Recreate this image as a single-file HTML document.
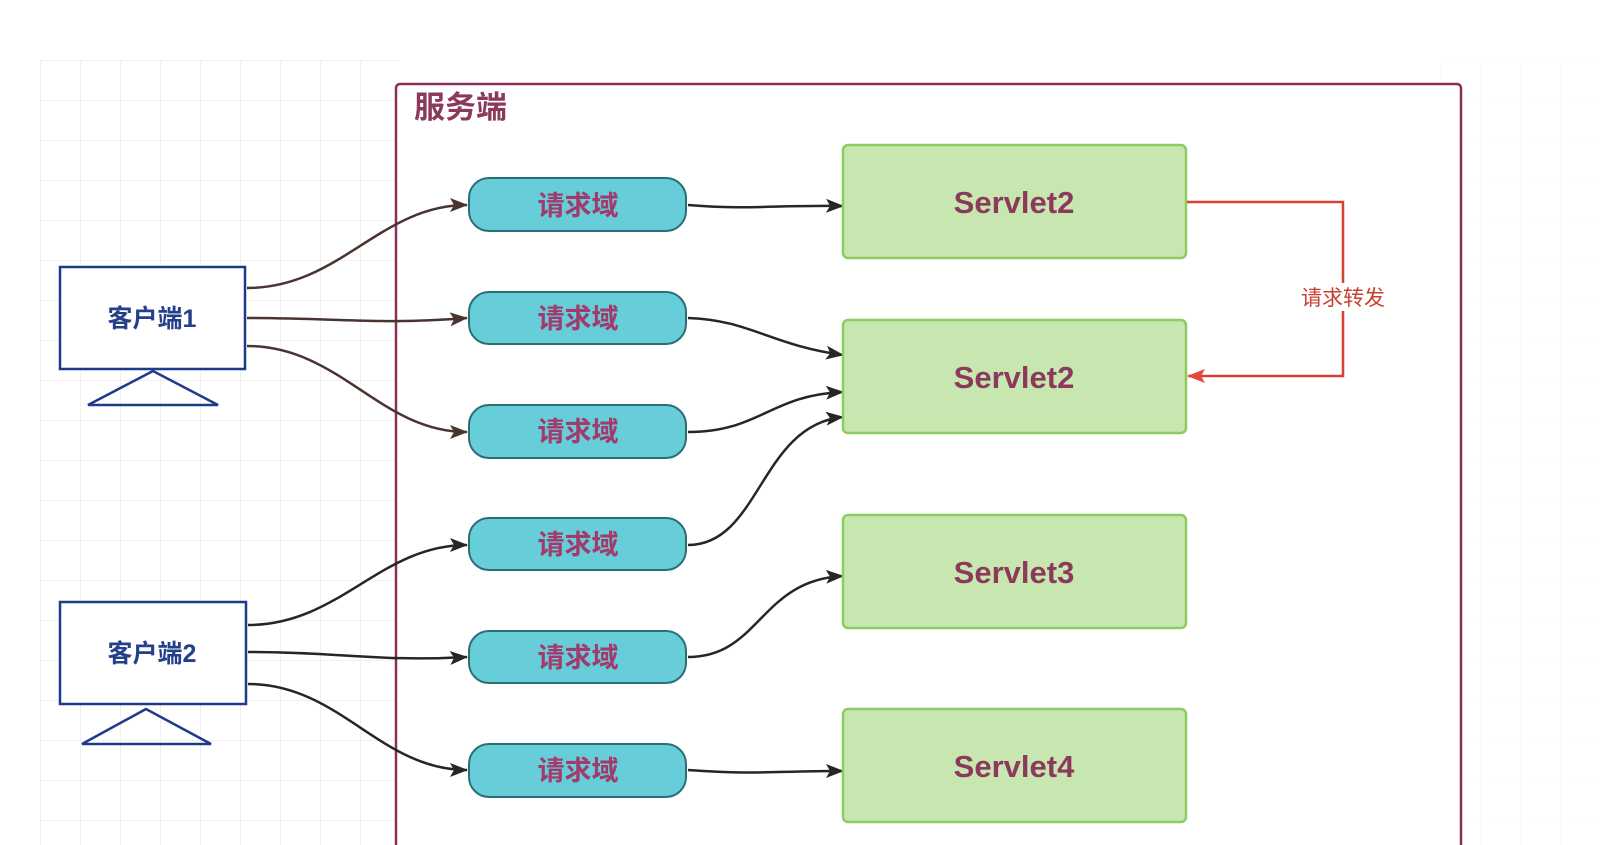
<!DOCTYPE html>
<html><head><meta charset="utf-8"><style>
html,body{margin:0;padding:0;background:#fff;}
svg{display:block}
text{font-family:"Liberation Sans","Noto Sans CJK SC",sans-serif;font-weight:bold}
</style></head><body>
<svg width="1600" height="845" viewBox="0 0 1600 845" xmlns="http://www.w3.org/2000/svg">
<defs>
<pattern id="g" width="40" height="40" patternUnits="userSpaceOnUse" x="40" y="20">
<path d="M40 0H0V40" fill="none" stroke="#ececec" stroke-width="1.5"/>
</pattern>
<marker id="a" markerWidth="18" markerHeight="14" refX="17" refY="7" orient="auto" markerUnits="userSpaceOnUse" viewBox="0 0 18 14">
<path d="M0 0L18 7L0 14L4 7Z" fill="#262626"/></marker>
<marker id="ab" markerWidth="18" markerHeight="14" refX="17" refY="7" orient="auto" markerUnits="userSpaceOnUse" viewBox="0 0 18 14">
<path d="M0 0L18 7L0 14L4 7Z" fill="#4a3430"/></marker>
<marker id="ar" markerWidth="18" markerHeight="14" refX="17" refY="7" orient="auto" markerUnits="userSpaceOnUse" viewBox="0 0 18 14">
<path d="M0 0L18 7L0 14L4 7Z" fill="#e24a3b"/></marker>
</defs>
<rect x="40" y="60" width="360" height="785" fill="url(#g)"/>
<rect x="1440" y="60" width="160" height="785" fill="url(#g)" opacity="0.3"/>
<rect x="396" y="84" width="1065" height="780" rx="4" fill="#fff" stroke="#8b2e5a" stroke-width="2.5"/>
<text x="414" y="118" font-size="31" fill="#8b3a5c">服务端</text>

<rect x="60" y="267" width="185" height="102" fill="#fff" stroke="#1f3a8a" stroke-width="2.5"/>
<text x="152" y="327" font-size="25" fill="#24408a" text-anchor="middle">客户端1</text>
<path d="M153 371L88 405H218Z" fill="none" stroke="#1f3a8a" stroke-width="2.5"/>
<rect x="60" y="602" width="186" height="102" fill="#fff" stroke="#1f3a8a" stroke-width="2.5"/>
<text x="152" y="662" font-size="25" fill="#24408a" text-anchor="middle">客户端2</text>
<path d="M146 709L82 744H211Z" fill="none" stroke="#1f3a8a" stroke-width="2.5"/>

<g fill="none" stroke="#4a3430" stroke-width="2.5" marker-end="url(#ab)">
<path d="M247 288C340 288 380 205 467 205"/>
<path d="M247 318C340 318 380 325 467 318"/>
<path d="M247 346C340 346 380 432 467 432"/>
</g>
<g fill="none" stroke="#262626" stroke-width="2.5" marker-end="url(#a)">
<path d="M248 625C340 625 380 545 467 545"/>
<path d="M248 652C340 652 380 662 467 657"/>
<path d="M248 684C340 684 380 770 467 770"/>
<path d="M688 205C750 210 770 205 843 206"/>
<path d="M688 318C750 320 770 345 843 355"/>
<path d="M688 432C760 432 770 395 843 392"/>
<path d="M688 545C760 545 760 425 843 417"/>
<path d="M688 657C760 657 760 580 843 576"/>
<path d="M688 770C760 775 770 771 843 771"/>
</g>

<g>
<rect x="469" y="178" width="217" height="53" rx="20" fill="#66cdd9" stroke="#2a6f78" stroke-width="2"/>
<rect x="469" y="292" width="217" height="52" rx="20" fill="#66cdd9" stroke="#2a6f78" stroke-width="2"/>
<rect x="469" y="405" width="217" height="53" rx="20" fill="#66cdd9" stroke="#2a6f78" stroke-width="2"/>
<rect x="469" y="518" width="217" height="52" rx="20" fill="#66cdd9" stroke="#2a6f78" stroke-width="2"/>
<rect x="469" y="631" width="217" height="52" rx="20" fill="#66cdd9" stroke="#2a6f78" stroke-width="2"/>
<rect x="469" y="744" width="217" height="53" rx="20" fill="#66cdd9" stroke="#2a6f78" stroke-width="2"/>
</g>
<g font-size="27" fill="#a23a6c" text-anchor="middle">
<text x="578" y="215">请求域</text>
<text x="578" y="328">请求域</text>
<text x="578" y="441">请求域</text>
<text x="578" y="554">请求域</text>
<text x="578" y="667">请求域</text>
<text x="578" y="780">请求域</text>
</g>

<g fill="#c8e6b0" stroke="#8ccc60" stroke-width="2.5">
<rect x="843" y="145" width="343" height="113" rx="5"/>
<rect x="843" y="320" width="343" height="113" rx="5"/>
<rect x="843" y="515" width="343" height="113" rx="5"/>
<rect x="843" y="709" width="343" height="113" rx="5"/>
</g>
<g font-size="31" fill="#8b3a5c" text-anchor="middle">
<text x="1014" y="213">Servlet2</text>
<text x="1014" y="388">Servlet2</text>
<text x="1014" y="583">Servlet3</text>
<text x="1014" y="777">Servlet4</text>
</g>

<path d="M1187 202H1343V376H1188" fill="none" stroke="#d8402f" stroke-width="2.5" marker-end="url(#ar)"/>
<rect x="1296" y="283" width="94" height="28" fill="#fff"/>
<text x="1343" y="305" font-size="21" fill="#c8402f" text-anchor="middle" style="font-weight:normal">请求转发</text>
</svg>
</body></html>
